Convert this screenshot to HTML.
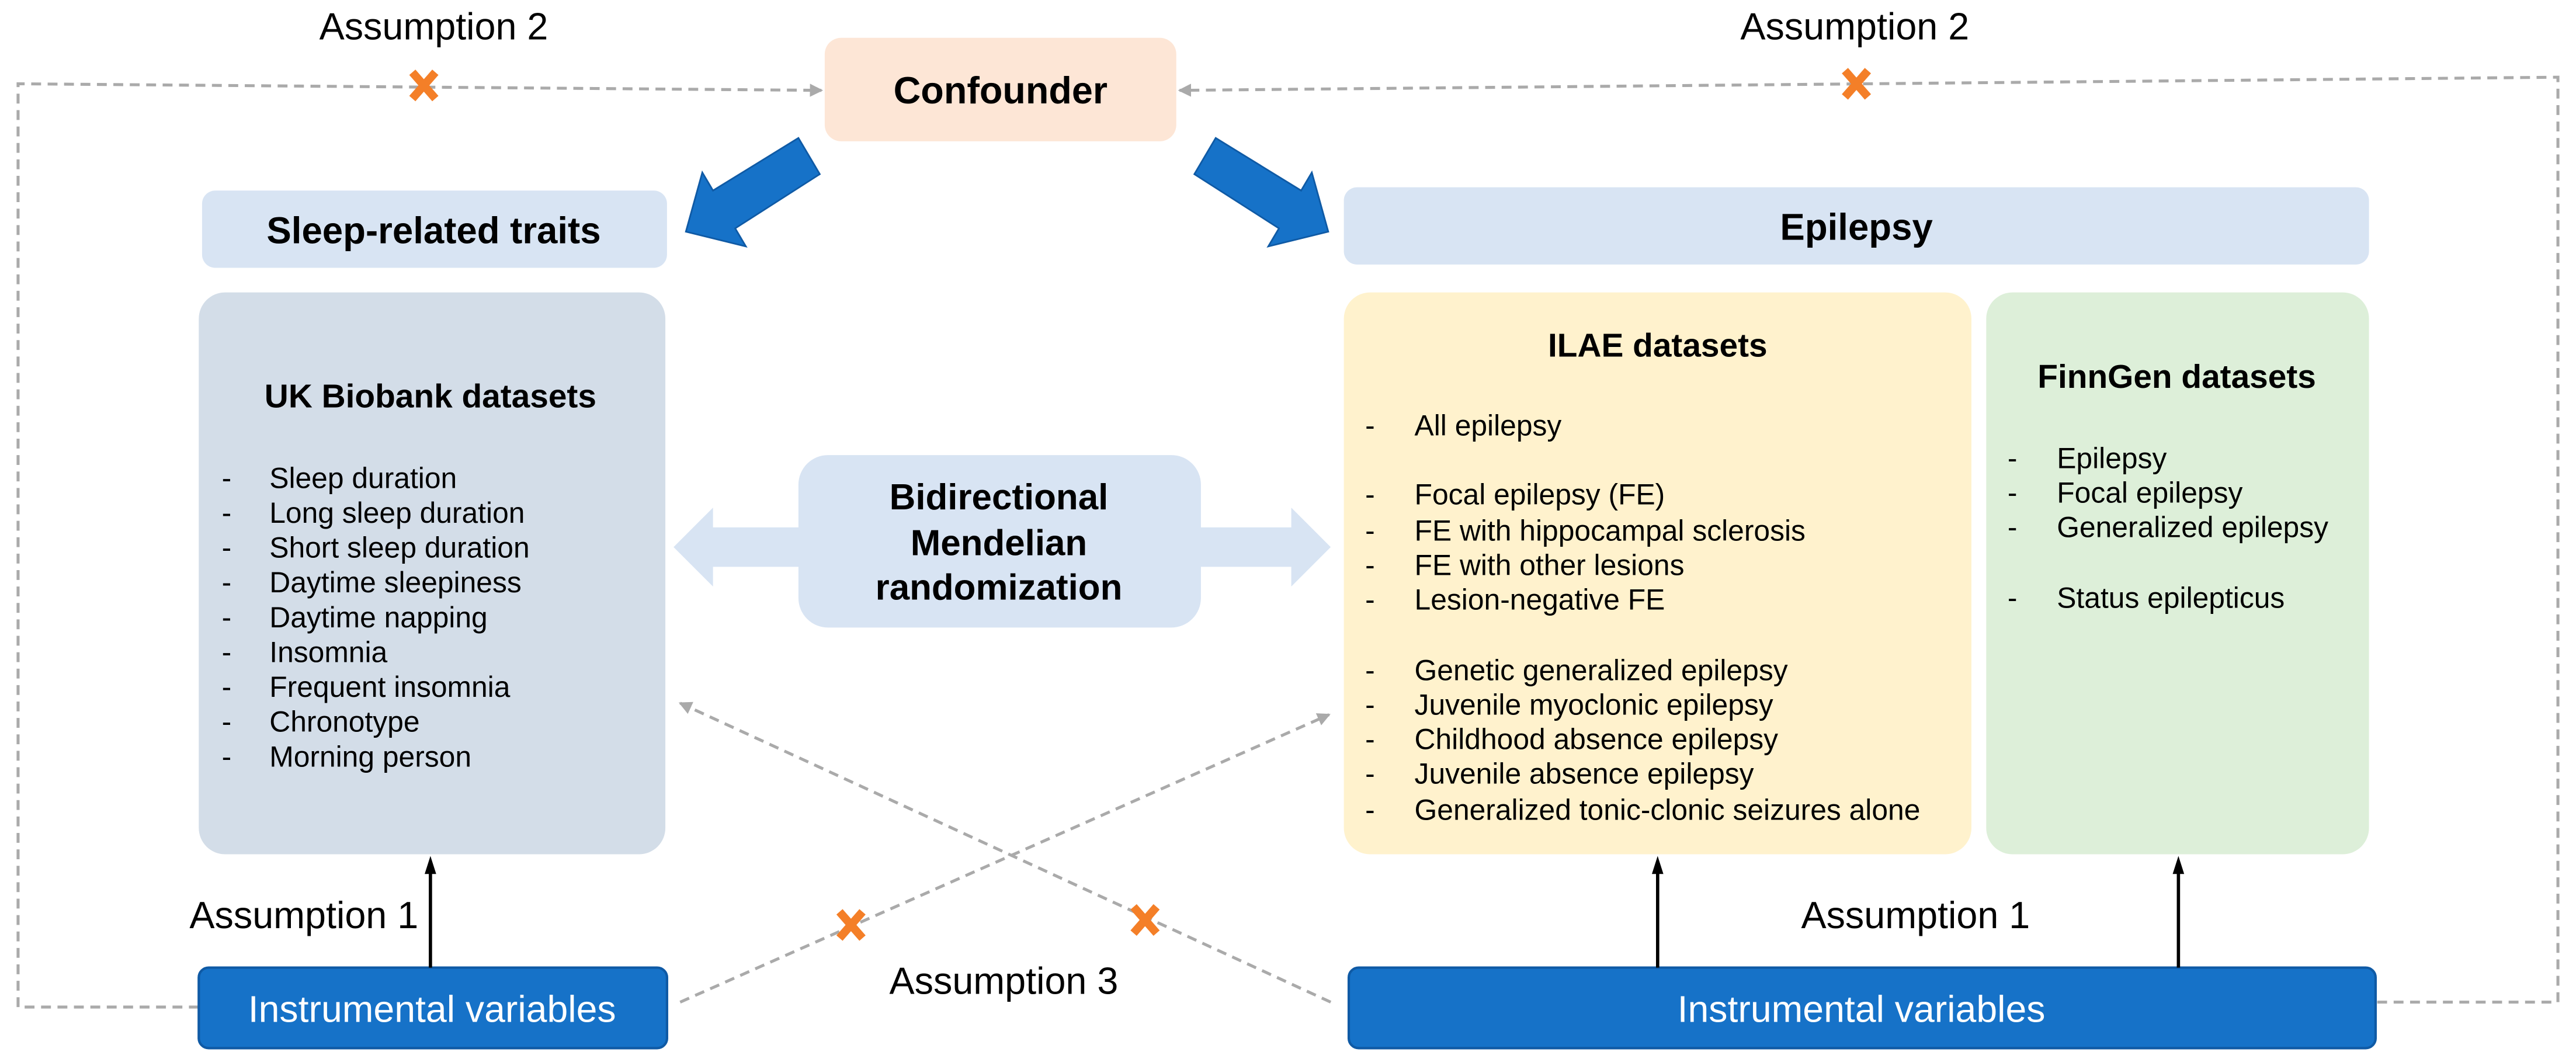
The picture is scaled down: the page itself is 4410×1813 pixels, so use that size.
<!DOCTYPE html>
<html><head><meta charset="utf-8"><style>
html,body{margin:0;padding:0;background:#fff}
svg{display:block}
text{font-family:"Liberation Sans",Arial,sans-serif}
</style></head><body>
<svg width="4410" height="1813" viewBox="0 0 1568 644.62" preserveAspectRatio="none" xmlns="http://www.w3.org/2000/svg">
<defs>
<marker id="ga" markerWidth="8" markerHeight="8" refX="7" refY="4" orient="auto" markerUnits="userSpaceOnUse"><path d="M0,0 L8,4 L0,8 Z" fill="#aaa"/></marker>
</defs>
<g fill="none" stroke="#aaa" stroke-width="1.8" stroke-dasharray="6,4">
<polyline points="121,613 11,613 11,51 500,55" marker-end="url(#ga)"/>
<polyline points="1447,610 1557,610 1557,47 718,55" marker-end="url(#ga)"/>
<line x1="414" y1="610" x2="809" y2="435" marker-end="url(#ga)"/>
<line x1="810" y1="610" x2="414" y2="428" marker-end="url(#ga)"/>
</g>
<g stroke="#f47f28" stroke-width="5" stroke-linecap="butt">
<path d="M251,44 L265,60 M265,44 L251,60"/>
<path d="M1123,43 L1137,59 M1137,43 L1123,59"/>
<path d="M511,555 L525,571 M525,555 L511,571"/>
<path d="M690,552 L704,568 M704,552 L690,568"/>
</g>
<rect x="502" y="23" width="214" height="63" rx="10" fill="#fde6d6"/>
<rect x="123" y="116" width="283" height="47" rx="8" fill="#d8e4f3"/>
<rect x="818" y="114" width="624" height="47" rx="8" fill="#d8e4f3"/>
<rect x="121" y="178" width="284" height="342" rx="16" fill="#d3dde8"/>
<rect x="818" y="178" width="382" height="342" rx="16" fill="#fff2cd"/>
<rect x="1209" y="178" width="233" height="342" rx="16" fill="#ddefd9"/>
<polygon points="410,333 434,309 434,321 786,321 786,309 810,333 786,357 786,345 434,345 434,357" fill="#d8e4f3"/>
<rect x="486" y="277" width="245" height="105" rx="18" fill="#d8e4f3"/>
<polygon points="486,84 499,106 447.5,139 454,150 417.5,141 427.5,105 434,116" fill="#1672c8" stroke="#0f5aa5" stroke-width="1"/>
<polygon points="740,84 727,106 778.5,139 772,150 808.5,141 798.5,105 792,116" fill="#1672c8" stroke="#0f5aa5" stroke-width="1"/>
<rect x="121" y="589" width="285" height="49" rx="6" fill="#1672c8" stroke="#0f5aa5" stroke-width="1.5"/>
<rect x="821" y="589" width="625" height="49" rx="6" fill="#1672c8" stroke="#0f5aa5" stroke-width="1.5"/>
<g stroke="#000" stroke-width="2">
<line x1="262" y1="589" x2="262" y2="530"/>
<line x1="1009" y1="589" x2="1009" y2="530"/>
<line x1="1326" y1="589" x2="1326" y2="530"/>
</g>
<g fill="#000">
<polygon points="262,521 258.5,532 265.5,532"/>
<polygon points="1009,521 1005.5,532 1012.5,532"/>
<polygon points="1326,521 1322.5,532 1329.5,532"/>
</g>
<g fill="#000" font-size="23">
<text x="264" y="24" text-anchor="middle">Assumption 2</text>
<text x="1129" y="24" text-anchor="middle">Assumption 2</text>
<text x="185" y="565" text-anchor="middle">Assumption 1</text>
<text x="1166" y="565" text-anchor="middle">Assumption 1</text>
<text x="611" y="605" text-anchor="middle">Assumption 3</text>
</g>
<g fill="#000" font-weight="bold" text-anchor="middle">
<text x="609" y="63" font-size="23">Confounder</text>
<text x="264" y="148" font-size="22.6">Sleep-related traits</text>
<text x="1130" y="146" font-size="22.6">Epilepsy</text>
</g>
<g fill="#000" font-weight="bold" font-size="22" text-anchor="middle">
<text x="608" y="310">Bidirectional</text>
<text x="608" y="338">Mendelian</text>
<text x="608" y="365">randomization</text>
</g>
<g fill="#000" font-weight="bold" font-size="20.2" text-anchor="middle">
<text x="262" y="248">UK Biobank datasets</text>
<text x="1009" y="217">ILAE datasets</text>
<text x="1325" y="236">FinnGen datasets</text>
</g>
<g fill="#fff" font-size="22.9" text-anchor="middle">
<text x="263" y="622">Instrumental variables</text>
<text x="1133" y="622">Instrumental variables</text>
</g>
<g fill="#000" font-size="17.7">
<g transform="translate(0,297)">
<text x="135" y="0">-</text><text x="164" y="0">Sleep duration</text>
<text x="135" y="21.2">-</text><text x="164" y="21.2">Long sleep duration</text>
<text x="135" y="42.4">-</text><text x="164" y="42.4">Short sleep duration</text>
<text x="135" y="63.6">-</text><text x="164" y="63.6">Daytime sleepiness</text>
<text x="135" y="84.8">-</text><text x="164" y="84.8">Daytime napping</text>
<text x="135" y="106">-</text><text x="164" y="106">Insomnia</text>
<text x="135" y="127.2">-</text><text x="164" y="127.2">Frequent insomnia</text>
<text x="135" y="148.4">-</text><text x="164" y="148.4">Chronotype</text>
<text x="135" y="169.6">-</text><text x="164" y="169.6">Morning person</text>
</g>
<text x="831" y="265">-</text><text x="861" y="265">All epilepsy</text>
<text x="831" y="307">-</text><text x="861" y="307">Focal epilepsy (FE)</text>
<text x="831" y="329">-</text><text x="861" y="329">FE with hippocampal sclerosis</text>
<text x="831" y="350">-</text><text x="861" y="350">FE with other lesions</text>
<text x="831" y="371">-</text><text x="861" y="371">Lesion-negative FE</text>
<text x="831" y="414">-</text><text x="861" y="414">Genetic generalized epilepsy</text>
<text x="831" y="435">-</text><text x="861" y="435">Juvenile myoclonic epilepsy</text>
<text x="831" y="456">-</text><text x="861" y="456">Childhood absence epilepsy</text>
<text x="831" y="477">-</text><text x="861" y="477">Juvenile absence epilepsy</text>
<text x="831" y="499">-</text><text x="861" y="499">Generalized tonic-clonic seizures alone</text>
<text x="1222" y="285">-</text><text x="1252" y="285">Epilepsy</text>
<text x="1222" y="306">-</text><text x="1252" y="306">Focal epilepsy</text>
<text x="1222" y="327">-</text><text x="1252" y="327">Generalized epilepsy</text>
<text x="1222" y="370">-</text><text x="1252" y="370">Status epilepticus</text>
</g>
</svg>
</body></html>
